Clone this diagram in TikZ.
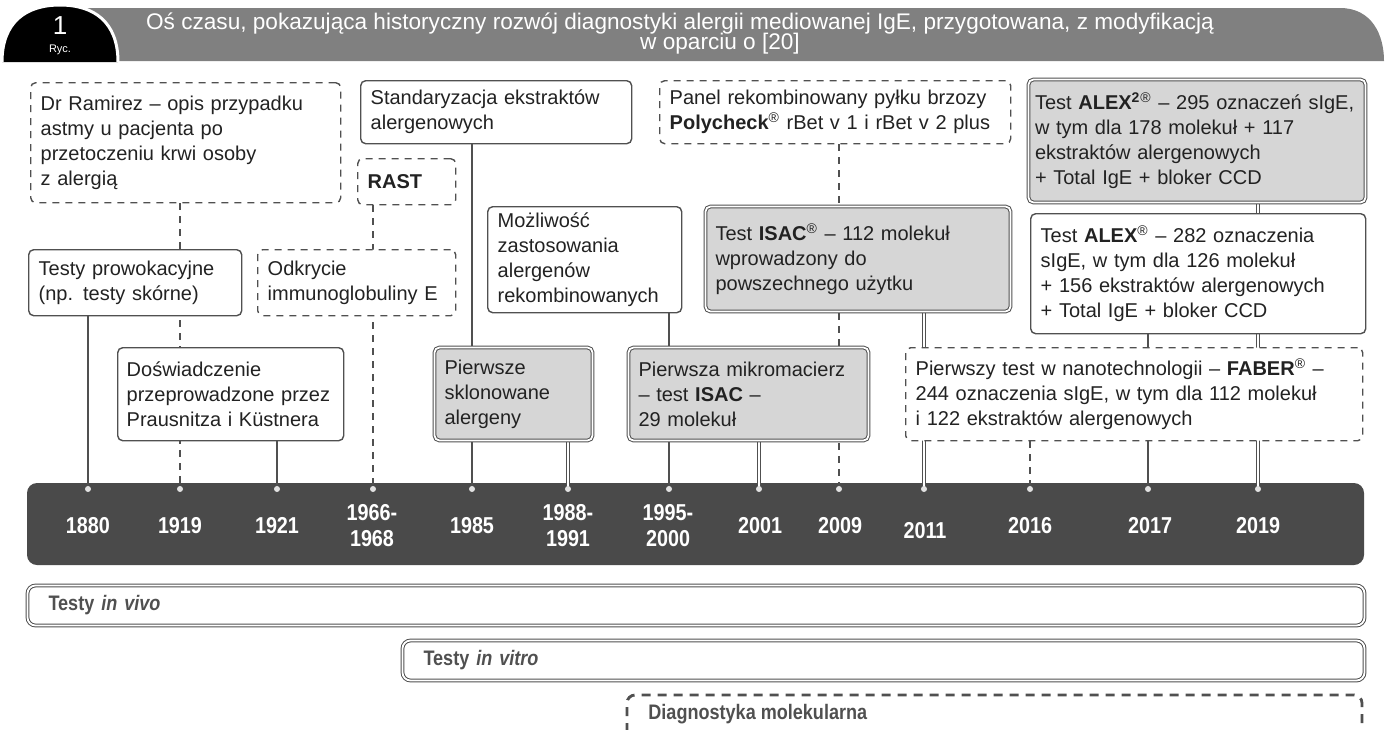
\documentclass[tikz,border=0pt]{standalone}
\usepackage{fontspec}
\setmainfont{Liberation Sans}
\newfontfamily\headfont{Liberation Sans}
\newfontfamily\yearfont[FakeStretch=0.86]{Liberation Sans}
\usetikzlibrary{backgrounds}

\definecolor{linegray}{HTML}{505050}
\definecolor{boxgray}{HTML}{D6D6D6}
\definecolor{bargray}{HTML}{4A4A4A}
\definecolor{headgray}{HTML}{808080}
\definecolor{dotgray}{HTML}{E2E2E2}
\definecolor{txt}{HTML}{222222}
\newcommand{\reg}{\textsuperscript{®}}

\tikzset{
  evt/.style={draw=linegray,line width=0.7pt,rounded corners=2.5pt,fill=white,anchor=north west,
    align=left,inner xsep=5pt,inner ysep=2pt,text=txt},
  devt/.style={evt,dash pattern=on 3.5pt off 3pt},
  gevt/.style={evt,fill=boxgray,double=white,double distance=0.9pt,line width=0.5pt},
  link/.style={draw=linegray,line width=0.7pt},
  dlink/.style={link,dash pattern=on 3.5pt off 3pt},
  wlink/.style={draw=linegray,line width=0.5pt,double=white,double distance=1pt},
  dot/.style={circle,fill=dotgray,inner sep=0pt,minimum size=3pt},
  yr/.style={text=white,align=center,font={\yearfont\bfseries\fontsize{11.5}{13}\selectfont}},
  band/.style={draw=linegray,line width=0.5pt,double=white,double distance=0.9pt,rounded corners=4pt,
    anchor=north west,align=left,inner xsep=10.5pt,text=linegray,
    font={\yearfont\bfseries\fontsize{10.5}{12}\selectfont}}
}

\begin{document}
\begin{tikzpicture}[x=0.5pt,y=-0.5pt,every node/.style={font=\fontsize{10}{12.5}\selectfont}]
\useasboundingbox (0,0) rectangle (1386,729);
\clip (0,0) rectangle (1386,729);

% header
\fill[headgray] (60,61) -- (60,8) -- (1340,8) .. controls (1372,8) and (1384,35) .. (1384,61) -- cycle;
\draw[fill=black,draw=white,line width=1.5pt] (2,62) .. controls (2,22) and (26,5) .. (60,5) .. controls (94,5) and (118,22) .. (118,62);
\node[text=white,font={\headfont\fontsize{13}{13}\selectfont}] (fignum) at (60,26) {1};
\node[text=white,font={\headfont\fontsize{5.5}{6}\selectfont}] (ryc) at (60,50) {Ryc.};
\node[text=white,align=center,font={\headfont\fontsize{11.3}{10}\selectfont\lineskiplimit=-10pt}] (title) at (680,34)
  {Oś czasu, pokazująca historyczny rozwój diagnostyki alergii mediowanej IgE, przygotowana, z modyfikacją\\\hspace*{40pt}w oparciu o [20]};

% years on the bar
\node[dot] (t1880) at (88,489) {};
\node[dot] (t1919) at (180,489) {};
\node[dot] (t1921) at (277,489) {};
\node[dot] (t1966) at (373,489) {};
\node[dot] (t1985) at (472,489) {};
\node[dot] (t1988) at (568,489) {};
\node[dot] (t1995) at (669,489) {};
\node[dot] (t2001) at (759,489) {};
\node[dot] (t2009) at (839,489) {};
\node[dot] (t2011) at (924,489) {};
\node[dot] (t2016) at (1030,489) {};
\node[dot] (t2017) at (1148,489) {};
\node[dot] (t2019) at (1258,489) {};
\node[yr] (y1880) at (88,526) {1880};
\node[yr] (y1919) at (180,526) {1919};
\node[yr] (y1921) at (277,526) {1921};
\node[yr] (y1966) at (372,526) {1966-\\1968};
\node[yr] (y1985) at (472,526) {1985};
\node[yr] (y1988) at (568,526) {1988-\\1991};
\node[yr] (y1995) at (668,526) {1995-\\2000};
\node[yr] (y2001) at (760,526) {2001};
\node[yr] (y2009) at (840,526) {2009};
\node[yr] (y2011) at (925,531) {2011};
\node[yr] (y2016) at (1030,526) {2016};
\node[yr] (y2017) at (1150,526) {2017};
\node[yr] (y2019) at (1258,526) {2019};

% events
\node[devt,minimum width=155pt,minimum height=60pt,text width=145pt] (ramirez) at (30,82)
  {Dr Ramirez – opis przypadku\\astmy u pacjenta po\\przetoczeniu krwi osoby\\z alergią};
\node[devt,minimum width=49pt,minimum height=23pt,text width=39pt] (rast) at (357,158) {\textbf{RAST}};
\node[evt,minimum width=135.5pt,minimum height=31.5pt,text width=125.5pt] (stand) at (360,80)
  {Standaryzacja ekstraktów\\alergenowych};
\node[devt,minimum width=175.5pt,minimum height=31.5pt,text width=165.5pt] (panel) at (659,80)
  {Panel rekombinowany pyłku brzozy\\\textbf{Polycheck}\reg{} rBet v 1 i rBet v 2 plus};
\node[gevt,minimum width=168.5pt,minimum height=61.5pt,text width=162pt,inner xsep=3.25pt] (alex2) at (1028,79)
  {Test \textbf{ALEX\textsuperscript{2}}\reg{} – 295 oznaczeń sIgE,\\w tym dla 178 molekuł + 117\\ekstraktów alergenowych\\+ Total IgE + bloker CCD};
\node[evt,minimum width=106.5pt,minimum height=33pt,text width=96.5pt] (prow) at (28,249)
  {Testy prowokacyjne\\(np. testy skórne)};
\node[devt,minimum width=99pt,minimum height=33pt,text width=89pt] (odkr) at (257,249)
  {Odkrycie\\immunoglobuliny E};
\node[evt,minimum width=97pt,minimum height=53pt,text width=87pt] (mozl) at (487,206)
  {Możliwość\\zastosowania\\alergenów\\rekombinowanych};
\node[gevt,minimum width=152.5pt,minimum height=52.5pt,text width=142.5pt] (isac) at (705,206)
  {Test \textbf{ISAC}\reg{} – 112 molekuł\\wprowadzony do\\powszechnego użytku};
\node[evt,minimum width=167.5pt,minimum height=60pt,text width=157.5pt] (alex) at (1030,213)
  {Test \textbf{ALEX}\reg{} – 282 oznaczenia\\sIgE, w tym dla 126 molekuł\\+ 156 ekstraktów alergenowych\\+ Total IgE + bloker CCD};
\node[evt,minimum width=113pt,minimum height=46.5pt,text width=104pt,inner xsep=4.5pt] (dosw) at (117,347)
  {Doświadczenie\\przeprowadzone przez\\Prausnitza i Küstnera};
\node[gevt,minimum width=79pt,minimum height=46.5pt,text width=69pt] (pierwsze) at (434,347)
  {Pierwsze\\sklonowane\\alergeny};
\node[gevt,minimum width=120pt,minimum height=46.5pt,text width=110pt] (mikro) at (628,347)
  {Pierwsza mikromacierz\\– test \textbf{ISAC} –\\29 molekuł};
\node[devt,minimum width=228.5pt,minimum height=46.5pt,text width=218.5pt] (faber) at (905,347)
  {Pierwszy test w nanotechnologii – \textbf{FABER}\reg{} –\\244 oznaczenia sIgE, w tym dla 112 molekuł\\i 122 ekstraktów alergenowych};

% ranges of methods
\node[band,minimum width=668.5pt,minimum height=20pt,text width=647.5pt] (vivo) at (27,585) {Testy \textit{in vivo}};
\node[band,minimum width=481pt,minimum height=20pt,text width=460pt] (vitro) at (402,640) {Testy \textit{in vitro}};
\draw[draw=linegray,line width=1.4pt,dash pattern=on 4.5pt off 3.5pt,rounded corners=4pt] (627,780) |- (1362,695) -- (1362,780);
\node[anchor=west,inner sep=0pt,text=linegray,font={\yearfont\bfseries\fontsize{10.5}{12}\selectfont}] (diag) at (648,714) {Diagnostyka molekularna};

\begin{scope}[on background layer]
\fill[bargray,rounded corners=5pt] (27,483) rectangle (1364,565);
\draw[link] (prow.south -| t1880) -- (t1880.center);
\draw[dlink] (ramirez.south -| t1919) -- (t1919.center);
\draw[link] (dosw.south -| t1921) -- (t1921.center);
\draw[dlink] (rast.south -| t1966) -- (t1966.center);
\draw[link] (stand.south -| t1985) -- (t1985.center);
\draw[wlink] (pierwsze.south -| t1988) -- (t1988.center);
\draw[link] (mozl.south -| t1995) -- (t1995.center);
\draw[wlink] (mikro.south -| t2001) -- (t2001.center);
\draw[dlink] (panel.south -| t2009) -- (t2009.center);
\draw[wlink] (isac.south -| t2011) -- (t2011.center);
\draw[dlink] (faber.south -| t2016) -- (t2016.center);
\draw[link] (alex.south -| t2017) -- (t2017.center);
\draw[wlink] (alex2.south -| t2019) -- (t2019.center);
\end{scope}
\end{tikzpicture}
\end{document}
